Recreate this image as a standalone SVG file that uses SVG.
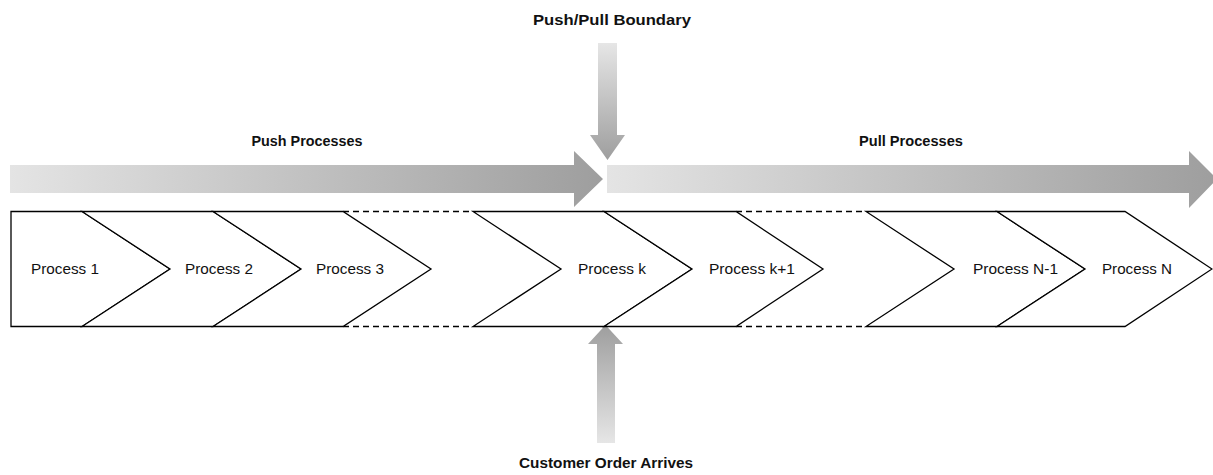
<svg xmlns="http://www.w3.org/2000/svg" width="1213" height="475" viewBox="0 0 1213 475">
<style>
.chev{fill:#fff;stroke:#000;stroke-width:1.3;stroke-linejoin:miter}
.dash{stroke:#000;stroke-width:1.3;stroke-dasharray:6 4;fill:none}
.lbl{font-family:"Liberation Sans",Arial,sans-serif;font-size:15px;fill:#111;text-anchor:middle}
.hdr{font-family:"Liberation Sans",Arial,sans-serif;font-size:15px;font-weight:bold;fill:#111;text-anchor:middle}
</style>
<defs>
<linearGradient id="gh" x1="0" y1="0" x2="1" y2="0">
<stop offset="0" stop-color="#e4e4e4"/>
<stop offset="1" stop-color="#9e9e9e"/>
</linearGradient>
<linearGradient id="gdown" x1="0" y1="0" x2="0" y2="1">
<stop offset="0" stop-color="#e6e6e6"/>
<stop offset="1" stop-color="#9e9e9e"/>
</linearGradient>
<linearGradient id="gup" x1="0" y1="0" x2="0" y2="1">
<stop offset="0" stop-color="#9e9e9e"/>
<stop offset="1" stop-color="#e6e6e6"/>
</linearGradient>
</defs>
<rect width="1213" height="475" fill="#fff"/>

<g id="push-arrow">
<polygon points="10,165 574,165 574,151 603,179 574,207 574,193 10,193" fill="url(#gh)"/>
<text class="hdr" x="307" y="146" textLength="111" lengthAdjust="spacingAndGlyphs">Push Processes</text>
</g>
<g id="pull-arrow">
<polygon points="607,165 1189,165 1189,151 1217,179 1189,208 1189,193 607,193" fill="url(#gh)"/>
<text class="hdr" x="911" y="146" textLength="104" lengthAdjust="spacingAndGlyphs">Pull Processes</text>
</g>
<g id="boundary">
<polygon points="598,43 617,43 617,135 625,135 607.5,160 590,135 598,135" fill="url(#gdown)"/>
<text class="hdr" x="612" y="25" textLength="158" lengthAdjust="spacingAndGlyphs">Push/Pull Boundary</text>
</g>
<g id="customer-order">
<polygon points="605.5,325 623,344 615,344 615,443 597,443 597,344 588,344" fill="url(#gup)"/>
<text class="hdr" x="606" y="468" textLength="174" lengthAdjust="spacingAndGlyphs">Customer Order Arrives</text>
</g>

<g id="connectors">
<line class="dash" x1="343" y1="211.5" x2="473" y2="211.5"/>
<line class="dash" x1="343" y1="326.5" x2="473" y2="326.5"/>
<line class="dash" x1="736" y1="211.5" x2="866" y2="211.5"/>
<line class="dash" x1="736" y1="326.5" x2="866" y2="326.5"/>
</g>

<g id="p1">
<polygon class="chev" points="11,211.5 82,211.5 170,269 82,326.5 11,326.5"/>
<text class="lbl" x="65" y="274" textLength="68" lengthAdjust="spacingAndGlyphs">Process 1</text>
</g>
<g id="p2">
<polygon class="chev" points="82,211.5 213,211.5 301,269 213,326.5 82,326.5 170,269"/>
<text class="lbl" x="219" y="274" textLength="68" lengthAdjust="spacingAndGlyphs">Process 2</text>
</g>
<g id="p3">
<polygon class="chev" points="213,211.5 343,211.5 431,269 343,326.5 213,326.5 301,269"/>
<text class="lbl" x="350" y="274" textLength="68" lengthAdjust="spacingAndGlyphs">Process 3</text>
</g>
<g id="pk">
<polygon class="chev" points="473,211.5 604,211.5 692,269 604,326.5 473,326.5 561,269"/>
<text class="lbl" x="612" y="274" textLength="68" lengthAdjust="spacingAndGlyphs">Process k</text>
</g>
<g id="pk1">
<polygon class="chev" points="604,211.5 736,211.5 823,269 736,326.5 604,326.5 692,269"/>
<text class="lbl" x="752" y="274" textLength="86" lengthAdjust="spacingAndGlyphs">Process k+1</text>
</g>
<g id="pN1">
<polygon class="chev" points="866,211.5 997,211.5 1085,269 997,326.5 866,326.5 954,269"/>
<text class="lbl" x="1015.5" y="274" textLength="85" lengthAdjust="spacingAndGlyphs">Process N-1</text>
</g>
<g id="pN">
<polygon class="chev" points="997,211.5 1125,211.5 1212,269 1125,326.5 997,326.5 1085,269"/>
<text class="lbl" x="1137" y="274" textLength="70" lengthAdjust="spacingAndGlyphs">Process N</text>
</g>
</svg>
